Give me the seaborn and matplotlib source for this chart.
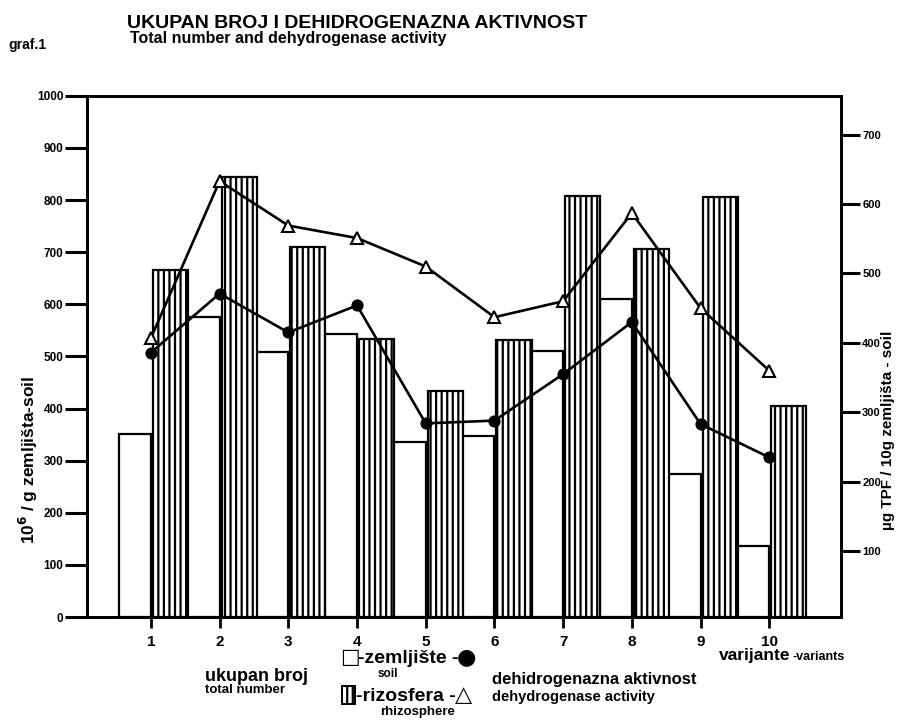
import seaborn as sns
import matplotlib.pyplot as plt
from matplotlib.patches import Rectangle
import numpy as np

variants = [1, 2, 3, 4, 5, 6, 7, 8, 9, 10]
soil_number = [352, 576, 509, 543, 335, 347, 511, 610, 274, 137]
rhizo_number = [665, 845, 710, 534, 434, 532, 807, 706, 805, 404]
soil_dehydro = [386, 471, 415, 454, 284, 288, 355, 430, 283, 235]
rhizo_dehydro = [407, 633, 569, 551, 510, 437, 460, 587, 450, 360]

sns.set_theme(style="white")
plt.rcParams['font.family'] = ['Liberation Sans', 'DejaVu Sans']
plt.rcParams['font.weight'] = 'bold'
plt.rcParams['hatch.linewidth'] = 1.6
for k in ['text.color', 'axes.labelcolor', 'xtick.color', 'ytick.color']:
    plt.rcParams[k] = 'black'

fig = plt.figure(figsize=(8.97, 7.2), dpi=100)
ax = fig.add_axes([0.097, 0.143, 0.841, 0.724])

# bars: soil left of the tick, rhizosphere right of it
x = np.array(variants)
ax.bar(x, soil_number, width=-0.47, align='edge', color='white',
       edgecolor='black', linewidth=1.6)
ax.bar(x + 0.03, rhizo_number, width=0.51, align='edge', color='white',
       edgecolor='black', linewidth=1.6, hatch='|||')
ax.set_xlim(0.07, 11.05)
ax.set_ylim(0, 1000)
ax.set_yticks(range(0, 1001, 100))
ax.set_xticks(variants)
ax.tick_params(axis='y', direction='out', length=16, width=2.2, labelsize=8.5, pad=1)
ax.tick_params(axis='x', direction='out', length=8, width=2, labelsize=11, pad=5)
ax.tick_params(left=True, bottom=True)
for s in ax.spines.values():
    s.set_linewidth(2)
    s.set_color('black')

ax2 = ax.twinx()
sns.lineplot(x=variants, y=soil_dehydro, ax=ax2, color='black', lw=1.9,
             marker='o', markersize=8, markerfacecolor='black', markeredgecolor='black')
sns.lineplot(x=variants, y=rhizo_dehydro, ax=ax2, color='black', lw=1.9,
             marker='^', markersize=9, markerfacecolor='white', markeredgecolor='black',
             markeredgewidth=1.5)
ax2.set_ylim(5, 756)
ax2.set_yticks(range(100, 701, 100))
ax2.tick_params(axis='y', direction='out', length=14, width=2.2, labelsize=8, pad=1, right=True)
for s in ax2.spines.values():
    s.set_linewidth(2)
    s.set_color('black')

fig.text(0.142, 0.968, "UKUPAN BROJ I DEHIDROGENAZNA AKTIVNOST", fontsize=14, weight='bold', va='center')
fig.text(0.145, 0.946, "Total number and dehydrogenase activity", fontsize=11.5, weight='bold', va='center')
fig.text(0.009, 0.938, "graf.1", fontsize=10, weight='bold', va='center')

fig.text(0.032, 0.362, "10$^{6}$ / g zemljišta-soil", rotation=90, fontsize=12.5, weight='bold',
         ha='center', va='center')
fig.text(0.99, 0.402, "µg TPF / 10g zemljišta - soil", rotation=90, fontsize=11, weight='bold',
         ha='center', va='center')

fig.text(0.801, 0.09, "varijante", fontsize=12.5, weight='bold', va='center')
fig.text(0.883, 0.088, "-variants", fontsize=9, weight='bold', va='center')

# legend drawn as text
fig.text(0.229, 0.061, "ukupan broj", fontsize=13, weight='bold', va='center')
fig.text(0.229, 0.041, "total number", fontsize=9.5, weight='bold', va='center')
fig.text(0.379, 0.087, "□", fontsize=15, va='center', family='DejaVu Sans')
fig.text(0.399, 0.085, "-zemljište -", fontsize=14, weight='bold', va='center')
fig.text(0.509, 0.087, "●", fontsize=16, va='center', family='DejaVu Sans')
fig.text(0.421, 0.064, "soil", fontsize=8.5, weight='bold', va='center')
fig.patches.append(Rectangle((0.381, 0.022), 0.015, 0.025, transform=fig.transFigure,
                             facecolor='white', edgecolor='black', hatch='|||', lw=1.4))
fig.text(0.397, 0.033, "-rizosfera -", fontsize=14, weight='bold', va='center')
fig.text(0.507, 0.035, "△", fontsize=16, va='center', family='DejaVu Sans')
fig.text(0.424, 0.011, "rhizosphere", fontsize=9.5, weight='bold', va='center')
fig.text(0.549, 0.056, "dehidrogenazna aktivnost", fontsize=12, weight='bold', va='center')
fig.text(0.549, 0.032, "dehydrogenase activity", fontsize=10.5, weight='bold', va='center')

fig.savefig("out.png", dpi=100)
